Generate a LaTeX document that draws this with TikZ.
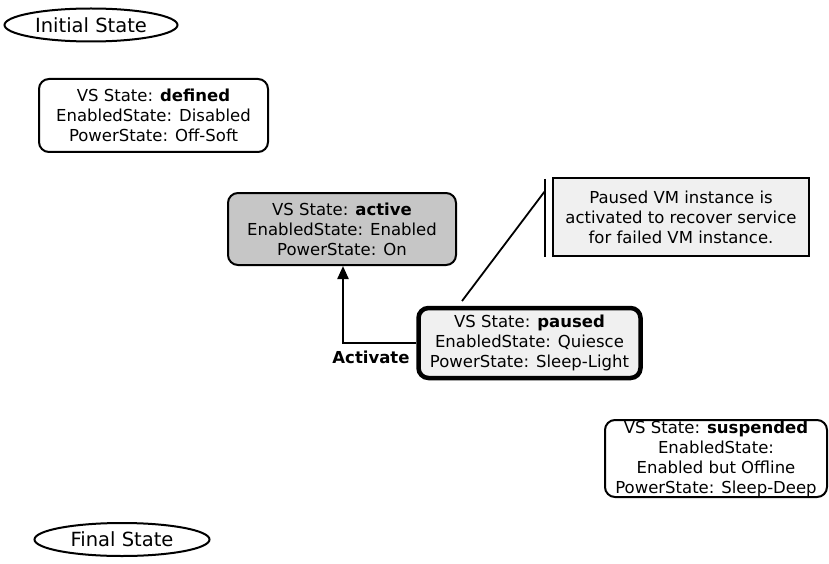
\documentclass[tikz,border=0pt]{standalone}
\usepackage{fontspec}
\setmainfont{DejaVu Sans}
\usetikzlibrary{shapes.geometric,arrows.meta}
\begin{document}
\begin{tikzpicture}[x=1pt,y=-1pt,
  every node/.style={font=\fontsize{16.5}{20}\selectfont, align=center, inner sep=0pt},
  statebox/.style={draw, rounded corners=10pt, line width=2pt},
  pseudo/.style={draw, ellipse, line width=2pt, font=\fontsize{19.5}{22}\selectfont},
  conn/.style={line width=2.2pt}]
\useasboundingbox (0,0) rectangle (829,564);
\node[pseudo, minimum width=173pt, minimum height=33pt] (init) at (91,25) {Initial State};
\node[statebox, minimum width=229pt, minimum height=73pt] (defined) at (153.5,115.5)
  {VS State: \textbf{defined}\\EnabledState: Disabled\\PowerState: Off-Soft};
\node[statebox, fill=gray!45, minimum width=228pt, minimum height=72pt] (active) at (342,229)
  {VS State: \textbf{active}\\EnabledState: Enabled\\PowerState: On};
\node[statebox, line width=4.5pt, fill=gray!12, minimum width=222pt, minimum height=70pt] (paused) at (529.5,343)
  {VS State: \textbf{paused}\\EnabledState: Quiesce\\PowerState: Sleep-Light};
\node[draw, line width=2pt, fill=gray!12, minimum width=256pt, minimum height=78pt] (note) at (681,217)
  {Paused VM instance is\\activated to recover service\\for failed VM instance.};
\coordinate (barT) at (545,179);
\coordinate (barB) at (545,257);
\coordinate (lineT) at (545,191);
\coordinate (lineB) at (462,301);
\draw[line width=2pt] (barT) -- (barB);
\draw[line width=1.8pt] (lineT) -- (lineB);
\node[statebox, minimum width=222pt, minimum height=77pt] (suspended) at (716,458.5)
  {VS State: \textbf{suspended}\\EnabledState:\\Enabled but Offline\\PowerState: Sleep-Deep};
\node[pseudo, minimum width=175pt, minimum height=33pt] (final) at (122,539.5) {Final State};
\coordinate (corner) at (343,343);
\draw[conn, -{Triangle[length=13pt,width=11pt]}] (paused.west |- corner) -- (corner) -- (corner |- active.south);
\node[font=\fontsize{16.5}{20}\selectfont\bfseries] (act) at (371,357) {Activate};
\end{tikzpicture}
\end{document}
